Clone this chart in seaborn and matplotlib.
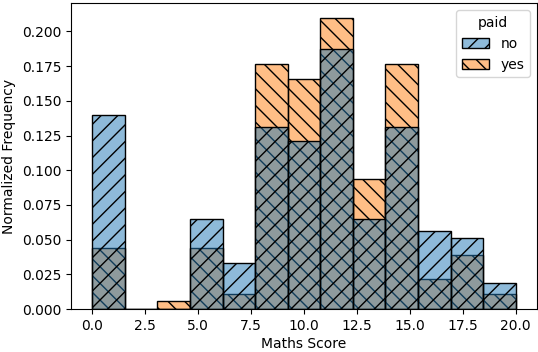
import matplotlib.pyplot as plt
import seaborn as sns
import numpy as np
import pandas as pd

# bin centres of the 13 bins between 0 and 20
bin_edges = np.linspace(0, 20, 14)
bin_centres = (bin_edges[:-1] + bin_edges[1:]) / 2

# normalized frequency, per bin
freq_no = [0.140, 0.0, 0.0, 0.065, 0.033, 0.131, 0.121, 0.187, 0.065, 0.131, 0.056, 0.051, 0.019]
freq_yes = [0.044, 0.0, 0.0055, 0.044, 0.011, 0.177, 0.166, 0.210, 0.094, 0.177, 0.022, 0.039, 0.011]

df = pd.DataFrame({
    "G3": np.concatenate([bin_centres, bin_centres]),
    "weight": freq_no + freq_yes,
    "paid": ["no"] * len(freq_no) + ["yes"] * len(freq_yes),
})

fig, ax = plt.subplots(figsize=(5.38, 3.52), dpi=100)
sns.histplot(data=df, x="G3", weights="weight", hue="paid", hue_order=["no", "yes"],
             bins=13, binrange=(0, 20), stat="probability", common_norm=False,
             edgecolor="black", ax=ax)

hatches = {"no": "//", "yes": "\\\\"}
# histplot draws hue levels in reverse order: yes first, then no
for cont, level in zip(ax.containers, ["yes", "no"]):
    for p in cont:
        p.set_hatch(hatches[level])

leg = ax.get_legend()
for handle, level in zip(leg.legend_handles, ["no", "yes"]):
    handle.set_hatch(hatches[level])
    handle.set_edgecolor("black")

ax.set_xlabel("Maths Score", labelpad=3)
ax.set_ylabel("Normalized Frequency")
fig.subplots_adjust(left=0.132, right=0.998, top=0.991, bottom=0.122)
fig.savefig("out.png")
